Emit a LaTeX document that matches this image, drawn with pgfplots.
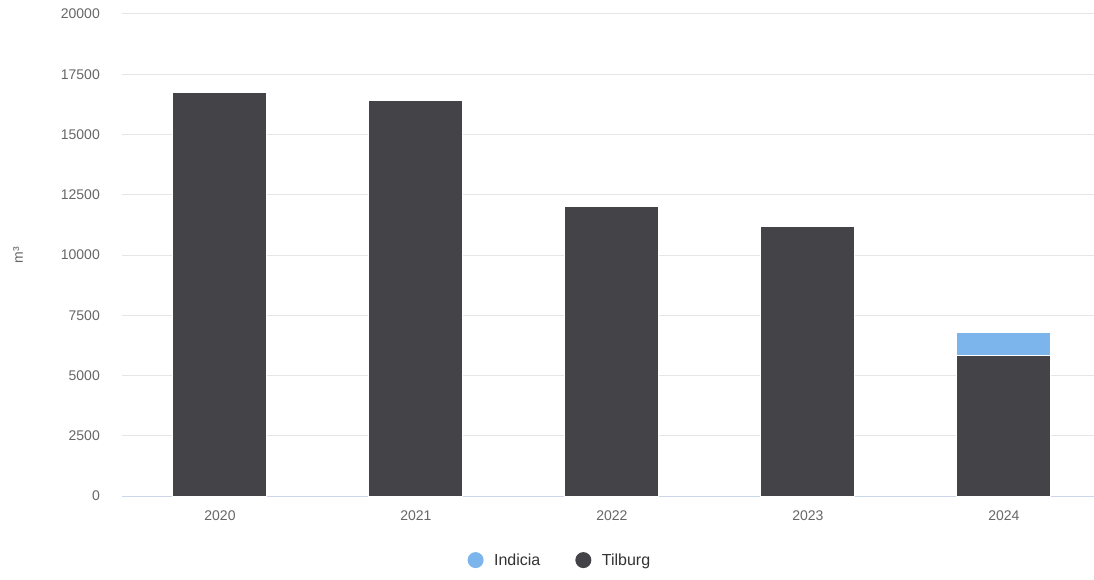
\documentclass[border=0pt]{standalone}
\usepackage{fontspec}
\setmainfont{Liberation Sans}
\usepackage{pgfplots}
\pgfplotsset{compat=1.18}
\definecolor{dark}{HTML}{434348}
\definecolor{blue}{HTML}{7CB5EC}
\definecolor{gridc}{HTML}{E6E6E6}
\definecolor{axisc}{HTML}{CCD6EB}
\definecolor{lab}{HTML}{666666}
\definecolor{legc}{HTML}{333333}
\begin{document}
\begin{tikzpicture}[x=1pt,y=1pt]
\path[use as bounding box] (0,0) rectangle (1094,579);
\begin{axis}[
  at={(122pt,83pt)}, anchor=south west,
  scale only axis, width=972pt, height=482pt,
  ybar stacked, bar width=94pt,
  xmin=-0.5, xmax=4.46, ymin=0, ymax=20000,
  xtick={0,1,2,3,4}, xticklabels={2020,2021,2022,2023,2024},
  ytick={0,2500,5000,7500,10000,12500,15000,17500,20000},
  scaled y ticks=false,
  /pgf/number format/assume math mode=true,
  yticklabel={\pgfmathprintnumber[fixed,precision=0,1000 sep={}]{\tick}},
  major tick length=0pt,
  axis line style={draw=none},
  ymajorgrids, major grid style={color=gridc, line width=1pt},
  extra y ticks={0}, extra y tick labels={},
  extra y tick style={grid=major, major grid style={color=axisc, line width=1pt}},
  tick label style={font=\fontsize{14}{16}\selectfont, text=lab},
  yticklabel style={inner sep=0pt, xshift=-22pt, anchor=east},
  xticklabel style={inner sep=0pt, yshift=-15pt, anchor=north},
  ylabel={m³},
  ylabel style={at={(axis description cs:-0.107,0.5)}, anchor=center, font=\fontsize{14}{16}\selectfont, text=lab},
  legend style={at={(0.4505,-0.133)}, anchor=center, draw=none, fill=none,
    font=\fontsize{16}{18}\selectfont, text=legc, legend columns=2,
    /tikz/every even column/.append style={column sep=33pt},
    legend cell align=left},
  legend image code/.code={\fill[#1, draw=none] (-4pt,0pt) circle (8pt); \path (12pt,0pt);},
  reverse legend,
]
\addplot[fill=dark, draw=white, line width=1pt] coordinates {(0,16750) (1,16400) (2,12030) (3,11200) (4,5810)};
\addplot[fill=blue, draw=white, line width=1pt] coordinates {(0,0) (1,0) (2,0) (3,0) (4,965)};
\legend{Tilburg, Indicia}
\end{axis}
\end{tikzpicture}
\end{document}
